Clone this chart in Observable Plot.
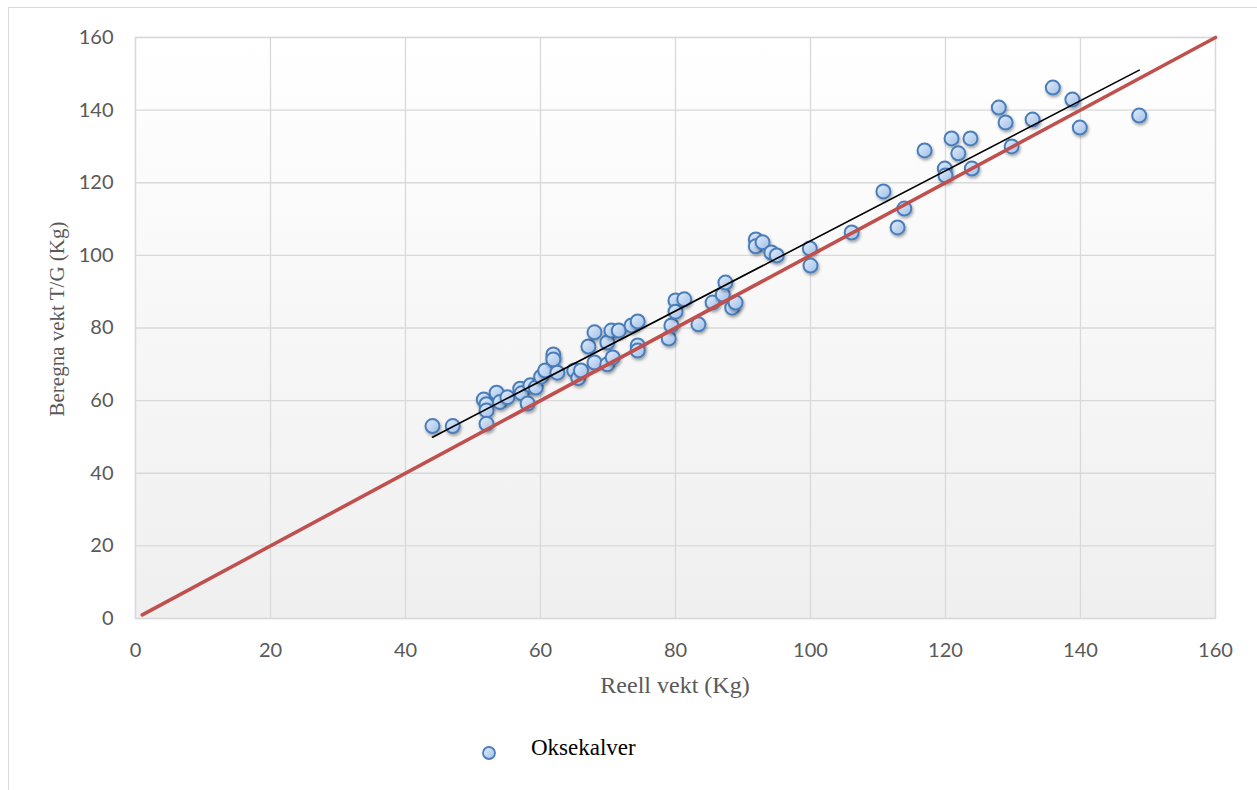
<!DOCTYPE html>
<html>
<head>
<meta charset="utf-8">
<script src="https://cdn.jsdelivr.net/npm/d3@7"></script>
<script src="https://cdn.jsdelivr.net/npm/@observablehq/plot@0.6"></script>
<style>
  html, body { margin: 0; padding: 0; background: #fff; width: 1257px; height: 790px; overflow: hidden; }
  #wrap { position: relative; width: 1257px; height: 790px; }
  #border { position: absolute; left: 8px; top: 7px; width: 1400px; height: 900px; border: 1px solid #d9d9d9; box-sizing: border-box; }
  #chart { position: absolute; left: 0; top: 0; }
  #legend { position: absolute; left: 0; top: 728px; width: 1257px; height: 50px; }
  #legend .txt { position: absolute; left: 531px; top: 6px; font-family: "Liberation Serif", serif; font-size: 23px; line-height: 28px; color: #000; }
  #legend svg { position: absolute; left: 478px; top: 14px; }
</style>
</head>
<body>
<div id="wrap">
  <div id="border"></div>
  <div id="chart"></div>
  <div id="legend">
    <svg width="24" height="24"><defs>
      <linearGradient id="legGrad" x1="0" y1="0" x2="1" y2="1">
        <stop offset="0" stop-color="#e4eefb"/><stop offset="1" stop-color="#9dbde8"/>
      </linearGradient></defs>
      <circle cx="11" cy="11" r="6" fill="url(#legGrad)" stroke="#4a7ebb" stroke-width="1.8"/>
    </svg>
    <div class="txt">Oksekalver</div>
  </div>
</div>
<script>
const seriesName = "Oksekalver";
const xLabel = "Reell vekt (Kg)";
const yLabel = "Beregna vekt T/G (Kg)";
const xTicks = [0, 20, 40, 60, 80, 100, 120, 140, 160];
const yTicks = [0, 20, 40, 60, 80, 100, 120, 140, 160];

// Reell vekt (x) and beregna vekt (y)
const reell = [44, 47, 51.6, 52, 52, 52, 53.5, 54, 55.1, 57, 57.2, 58.1, 58.5, 59.3, 60.1, 60.7,
  61.9, 61.9, 62.5, 65, 65.6, 66, 67.1, 68, 68, 69.9, 69.9, 70.5, 70.7, 71.6, 73.5, 74.4, 74.4, 74.4,
  79, 79.4, 80, 80, 81.3, 83.4, 85.5, 87, 87.4, 88.4, 88.9, 91.9, 91.9, 92.9, 94.2, 95, 99.9, 100,
  106.1, 110.8, 112.9, 113.9, 116.9, 119.9, 120, 120.9, 121.9, 123.7, 123.9, 127.9, 128.9, 129.8,
  132.9, 135.9, 138.8, 139.9, 148.7];
const beregna = [53, 53, 60.3, 59, 57.3, 53.6, 62.2, 59.6, 60.9, 63.3, 62, 59.2, 64.2, 63.6, 66.6, 68.3,
  72.7, 71.3, 67.7, 68.3, 66.2, 68.3, 74.9, 78.8, 70.5, 76, 70, 79.3, 71.9, 79.3, 80.7, 81.8, 75.2, 73.8,
  77.1, 80.7, 87.6, 84.5, 87.9, 81, 87, 89.2, 92.5, 85.6, 87, 104.4, 102.5, 103.6, 100.8, 100, 101.9, 97.2,
  106.3, 117.6, 107.7, 112.9, 128.9, 123.9, 122, 132.2, 128.1, 132.2, 123.9, 140.7, 136.6, 130,
  137.4, 146.2, 142.9, 135.2, 138.5];
// identity reference line (y = x)
const identityX = [1, 160];

const calves = reell.map((x, i) => ({x, y: beregna[i]}));
const identity = identityX.map(v => ({x: v, y: v}));

const svg = Plot.plot({
  width: 1257,
  height: 720,
  marginLeft: 135,
  marginTop: 37,
  marginRight: 42,
  marginBottom: 102,
  x: {domain: [0, 160]},
  y: {domain: [0, 160]},
  style: {fontFamily: "Lato, sans-serif", fontSize: "20px", color: "#595959", background: "transparent", overflow: "visible"},
  marks: [
    Plot.frame({fill: "url(#bgGrad)", stroke: null}),
    Plot.gridX(xTicks, {stroke: "#d9d9d9", strokeOpacity: 1, strokeWidth: 1.3}),
    Plot.gridY(yTicks, {stroke: "#d9d9d9", strokeOpacity: 1, strokeWidth: 1.3}),
    Plot.frame({stroke: "#d9d9d9", strokeWidth: 1.3}),
    Plot.axisX(xTicks, {tickSize: 0, tickPadding: 24, label: null, fill: "#595959"}),
    Plot.axisY(yTicks, {tickSize: 0, tickPadding: 22, label: null, fill: "#595959"}),
    Plot.dot(calves, {x: "x", y: "y", r: 7, fill: "url(#dotGrad)", stroke: "#4a7ebb", strokeWidth: 2}),
    Plot.linearRegressionY(calves, {x: "x", y: "y", stroke: "#000", strokeWidth: 1.6, ci: 0}),
    Plot.line(identity, {x: "x", y: "y", stroke: "#c0504d", strokeWidth: 3.6})
  ]
});

const s = d3.select(svg);
const defs = s.insert("defs", ":first-child");
const bg = defs.append("linearGradient").attr("id", "bgGrad").attr("x1", 0).attr("y1", 0).attr("x2", 0).attr("y2", 1);
bg.append("stop").attr("offset", 0).attr("stop-color", "#ffffff");
bg.append("stop").attr("offset", 1).attr("stop-color", "#efefef");
const dg = defs.append("linearGradient").attr("id", "dotGrad").attr("x1", 0).attr("y1", 0).attr("x2", 1).attr("y2", 1);
dg.append("stop").attr("offset", 0).attr("stop-color", "#e4eefb");
dg.append("stop").attr("offset", 1).attr("stop-color", "#9dbde8");
const f = defs.append("filter").attr("id", "shadow").attr("x", "-50%").attr("y", "-50%").attr("width", "200%").attr("height", "200%");
f.append("feDropShadow").attr("dx", 1).attr("dy", 2).attr("stdDeviation", 1.5).attr("flood-color", "#000").attr("flood-opacity", 0.35);
s.selectAll('g[aria-label="dot"] circle').attr("filter", "url(#shadow)");

// axis titles
s.append("text").attr("x", 675).attr("y", 693).attr("text-anchor", "middle")
  .attr("font-family", "Liberation Serif, serif").attr("font-size", 24).attr("fill", "#595959").text(xLabel);
s.append("text").attr("transform", "translate(64,319) rotate(-90)").attr("text-anchor", "middle")
  .attr("font-family", "Liberation Serif, serif").attr("font-size", 21).attr("fill", "#595959").text(yLabel);

document.getElementById("chart").appendChild(svg);
</script>
</body>
</html>
